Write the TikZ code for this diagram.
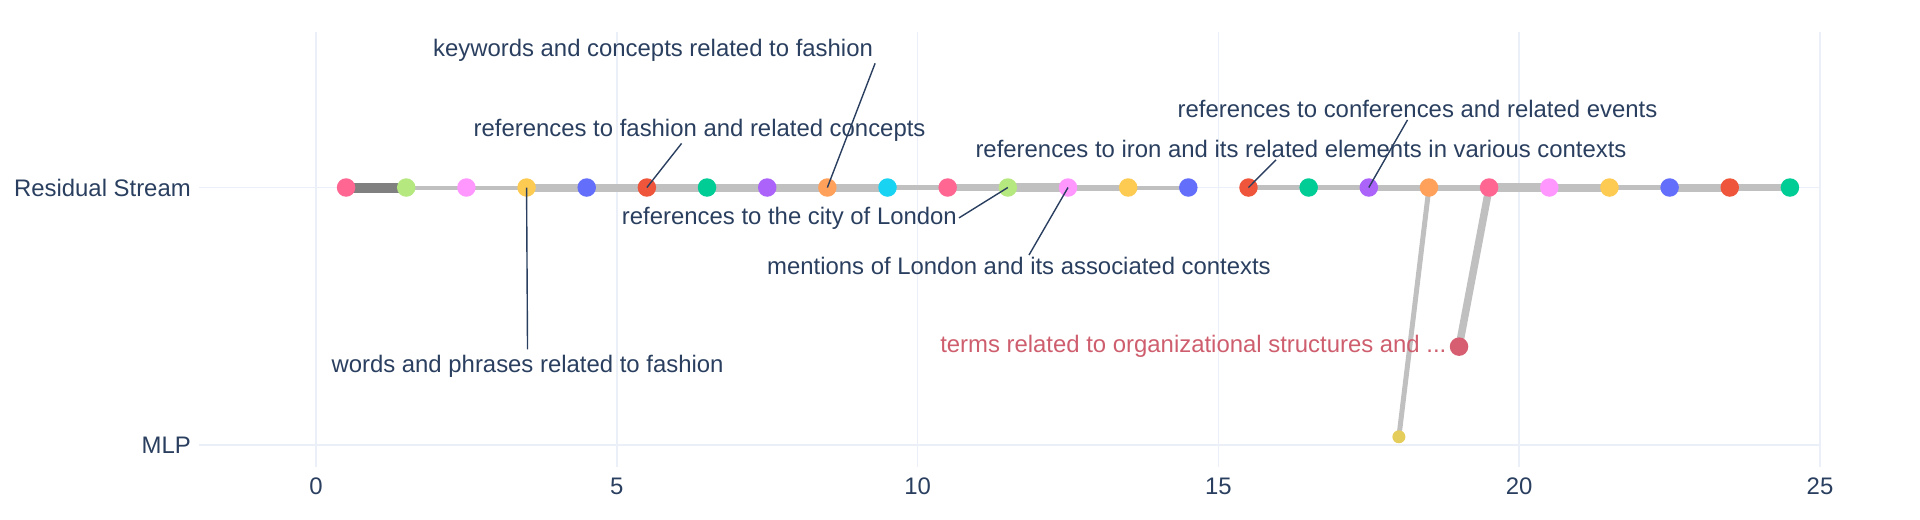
\documentclass[tikz,border=0pt]{standalone}
\usepackage{fontspec}
\setmainfont{Liberation Sans}
\usetikzlibrary{backgrounds}

\definecolor{navy}{HTML}{2A3F5F}
\definecolor{gridc}{HTML}{EBF0F8}
\definecolor{lgray}{HTML}{C0C0C0}
\definecolor{dgray}{HTML}{808080}
\definecolor{rose}{HTML}{FF6692}
\definecolor{lime}{HTML}{B6E880}
\definecolor{lpink}{HTML}{FF97FF}
\definecolor{amber}{HTML}{FECB52}
\definecolor{blue}{HTML}{636EFA}
\definecolor{tomato}{HTML}{EF553B}
\definecolor{teal}{HTML}{00CC96}
\definecolor{violet}{HTML}{AB63FA}
\definecolor{orange}{HTML}{FFA15A}
\definecolor{cyan}{HTML}{19D3F3}
\definecolor{mlpyel}{HTML}{E4CD5A}
\definecolor{mlpred}{HTML}{D65E70}
\definecolor{redtxt}{HTML}{CE5E6E}

\newcommand{\lbl}{\fontsize{23.9}{28}\selectfont}

\begin{document}
\begin{tikzpicture}[x=60.16pt, y=257.5pt,
	dot/.style={circle, inner sep=0pt, minimum size=18.5pt},
	edge/.style={draw=lgray, line cap=butt},
	label/.style={font=\lbl, text=navy, inner sep=2pt},
	tick/.style={font=\lbl, text=navy, inner sep=2pt},
	grid/.style={draw=gridc, line width=1.5pt},
	lead/.style={draw=navy, line width=1.4pt}]
	\useasboundingbox (-5.2527,-0.2874) rectangle (26.662,1.7282);
	
	%Nodes
	\foreach \c [count=\i from 0] in {rose,lime,lpink,amber,blue,tomato,teal,violet,orange,cyan,
		rose,lime,lpink,amber,blue,tomato,teal,violet,orange,rose,lpink,amber,blue,tomato,teal}
		\node[dot, fill=\c] (d\i) at (\i+0.5,1) {};
	\node[dot, fill=mlpyel, minimum size=13pt]	(m1)	at (18,0.032)	{};
	\node[dot, fill=mlpred]	(m2)	at (19,0.382)	{};
	
	%Labels
	\node[label]	(kw)	at (5.602,1.534)	{keywords and concepts related to fashion};
	\node[label]	(fc)	at (6.376,1.223)	{references to fashion and related concepts};
	\node[label]	(wp)	at (3.516,0.304)	{words and phrases related to fashion};
	\node[label, anchor=east]	(cl)	at (10.688,0.882)	{references to the city of London};
	\node[label]	(ml)	at (11.685,0.695)	{mentions of London and its associated contexts};
	\node[label]	(ir)	at (16.373,1.150)	{references to iron and its related elements in various contexts};
	\node[label]	(cf)	at (18.309,1.305)	{references to conferences and related events};
	\node[label, text=redtxt, anchor=east, xshift=-1pt]	(org)	at (m2.west)	{terms related to organizational structures and ...};
	
	%Axes
	\node[tick, anchor=east]	(rs)	at (-2.045,1)	{Residual Stream};
	\node[tick, anchor=east]	(mlp)	at (-2.045,0)	{MLP};
	\foreach \t in {0,5,...,25}
		\node[tick]	(t\t)	at (\t,-0.162)	{\t};
	
	%Lines
	\begin{scope}[on background layer]
		\foreach \t in {0,5,...,25}
			\draw[grid] (\t,-0.084) -- (\t,1.605);
		\draw[grid] (-1.945,1) -- (25,1);
		\draw[grid] (-1.945,0) -- (25,0);
		\draw[edge, draw=dgray, line width=10pt] (d0.center) -- (d1.center);
		\foreach \a/\b/\w in {1/2/4, 2/3/4, 3/4/8, 4/5/8, 5/6/8, 6/7/8, 7/8/8, 8/9/8, 9/10/4.5,
			10/11/7, 11/12/9, 12/13/6, 13/14/4, 15/16/5, 16/17/5.5, 17/18/6, 18/19/6,
			19/20/9.5, 20/21/8, 21/22/5.5, 22/23/8, 23/24/6.5}
			\draw[edge, line width=\w pt] (d\a.center) -- (d\b.center);
		\draw[edge, line width=5pt] (d18.center) -- (m1.center);
		\draw[edge, line width=7.5pt] (d19.center) -- (m2.center);
	\end{scope}
	
	\draw[lead] (kw.south east) -- (d8.center);
	\draw[lead] ([xshift=-18pt]fc.south) -- (d5.center);
	\draw[lead] ([yshift=4pt]wp.north) -- (d3.center);
	\draw[lead] (cl.east) -- (d11.center);
	\draw[lead] ([xshift=10pt]ml.north) -- (d12.center);
	\draw[lead] ([xshift=-25pt]ir.south) -- (d15.center);
	\draw[lead] ([xshift=-10pt]cf.south) -- (d17.center);
\end{tikzpicture}
\end{document}
